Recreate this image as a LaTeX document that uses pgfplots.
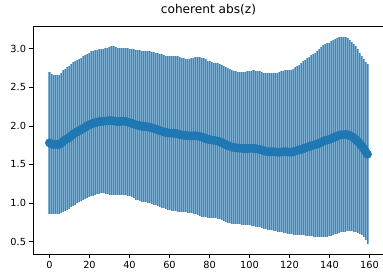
\documentclass[border=0pt]{standalone}
\usepackage{pgfplots}
\pgfplotsset{compat=1.18}
\usepackage{pgfplotstable}
\usepackage{fontspec}
\setmainfont{DejaVu Sans}
\definecolor{C0}{HTML}{1F77B4}

% x, mean, upper end and lower end of the error bar
\pgfplotstableread{
x m U L
0 1.78 2.70 0.86
1 1.7625 2.67 0.855
2 1.76 2.665 0.855
3 1.76 2.665 0.855
4 1.76 2.665 0.855
5 1.76 2.665 0.855
6 1.78 2.69 0.87
7 1.8025 2.72 0.885
8 1.82 2.74 0.90
9 1.835 2.76 0.91
10 1.8525 2.78 0.925
11 1.8725 2.80 0.945
12 1.895 2.825 0.965
13 1.91 2.84 0.98
14 1.925 2.855 0.995
15 1.94 2.87 1.01
16 1.955 2.885 1.025
17 1.97 2.90 1.04
18 1.985 2.915 1.055
19 2.0025 2.935 1.07
20 2.015 2.95 1.08
21 2.025 2.965 1.085
22 2.035 2.975 1.095
23 2.0425 2.98 1.105
24 2.05 2.985 1.115
25 2.055 2.99 1.12
26 2.0575 2.99 1.125
27 2.06 2.995 1.125
28 2.0625 3.005 1.12
29 2.065 3.015 1.115
30 2.0675 3.025 1.11
31 2.0675 3.03 1.105
32 2.065 3.03 1.10
33 2.06 3.02 1.10
34 2.055 3.01 1.10
35 2.055 3.005 1.105
36 2.06 3.01 1.11
37 2.0625 3.015 1.11
38 2.0575 3.01 1.105
39 2.05 3.005 1.095
40 2.0425 3.00 1.085
41 2.035 2.995 1.075
42 2.025 2.99 1.06
43 2.015 2.985 1.045
44 2.0075 2.98 1.035
45 2.0025 2.98 1.025
46 1.9975 2.975 1.02
47 1.9925 2.97 1.015
48 1.99 2.97 1.01
49 1.9875 2.97 1.005
50 1.9825 2.965 1.00
51 1.975 2.96 0.99
52 1.9675 2.955 0.98
53 1.96 2.95 0.97
54 1.95 2.94 0.96
55 1.94 2.93 0.95
56 1.9325 2.925 0.94
57 1.9225 2.915 0.93
58 1.915 2.91 0.92
59 1.91 2.91 0.91
60 1.9075 2.91 0.905
61 1.905 2.91 0.90
62 1.905 2.91 0.90
63 1.9025 2.91 0.895
64 1.8975 2.905 0.89
65 1.89 2.89 0.89
66 1.8825 2.88 0.885
67 1.88 2.875 0.885
68 1.875 2.87 0.88
69 1.8725 2.87 0.875
70 1.87 2.87 0.87
71 1.87 2.875 0.865
72 1.8725 2.885 0.86
73 1.8725 2.89 0.855
74 1.8675 2.89 0.845
75 1.8625 2.89 0.835
76 1.855 2.885 0.825
77 1.8475 2.875 0.82
78 1.8375 2.86 0.815
79 1.8275 2.845 0.81
80 1.8225 2.835 0.81
81 1.8175 2.825 0.81
82 1.8125 2.82 0.805
83 1.8075 2.815 0.80
84 1.8025 2.81 0.795
85 1.795 2.80 0.79
86 1.785 2.79 0.78
87 1.7725 2.775 0.77
88 1.7575 2.76 0.755
89 1.745 2.745 0.745
90 1.7375 2.735 0.74
91 1.7275 2.72 0.735
92 1.72 2.71 0.73
93 1.7175 2.705 0.73
94 1.7125 2.70 0.725
95 1.7125 2.70 0.725
96 1.71 2.70 0.72
97 1.7075 2.70 0.715
98 1.705 2.70 0.71
99 1.7075 2.705 0.71
100 1.71 2.71 0.71
101 1.71 2.715 0.705
102 1.71 2.72 0.70
103 1.705 2.715 0.695
104 1.70 2.71 0.69
105 1.695 2.705 0.685
106 1.69 2.70 0.68
107 1.68 2.69 0.67
108 1.67 2.68 0.66
109 1.6675 2.68 0.655
110 1.665 2.68 0.65
111 1.665 2.685 0.645
112 1.665 2.69 0.64
113 1.6625 2.69 0.635
114 1.66 2.69 0.63
115 1.66 2.695 0.625
116 1.6625 2.705 0.62
117 1.665 2.715 0.615
118 1.665 2.72 0.61
119 1.6625 2.72 0.605
120 1.66 2.72 0.60
121 1.66 2.725 0.595
122 1.665 2.74 0.59
123 1.675 2.76 0.59
124 1.6825 2.78 0.585
125 1.69 2.795 0.585
126 1.695 2.81 0.58
127 1.7075 2.835 0.58
128 1.715 2.855 0.575
129 1.725 2.875 0.575
130 1.7325 2.895 0.57
131 1.7425 2.915 0.57
132 1.75 2.935 0.565
133 1.7575 2.95 0.565
134 1.7675 2.97 0.565
135 1.775 2.99 0.56
136 1.79 3.02 0.56
137 1.8025 3.045 0.56
138 1.8125 3.06 0.565
139 1.8175 3.07 0.565
140 1.825 3.08 0.57
141 1.835 3.095 0.575
142 1.8475 3.11 0.585
143 1.8575 3.12 0.595
144 1.87 3.135 0.605
145 1.88 3.145 0.615
146 1.885 3.15 0.62
147 1.8875 3.15 0.625
148 1.8875 3.145 0.63
149 1.885 3.135 0.635
150 1.875 3.115 0.635
151 1.8625 3.09 0.635
152 1.8475 3.065 0.63
153 1.825 3.03 0.62
154 1.80 2.99 0.61
155 1.775 2.95 0.60
156 1.7425 2.90 0.585
157 1.71 2.86 0.56
158 1.6725 2.825 0.52
159 1.6325 2.80 0.465
}\datatable

\begin{document}
\begin{tikzpicture}
\path (-33bp,-21bp) rectangle (350bp,254bp);
\begin{axis}[
  overlay,
  at={(0,0)}, anchor=south west,
  scale only axis,
  width=351bp, height=228bp,
  xmin=-8.25, xmax=167.25,
  ymin=0.34, ymax=3.294,
  xtick={0,20,...,160},
  ytick={0.5,1.0,1.5,2.0,2.5,3.0},
  yticklabel style={/pgf/number format/.cd, fixed, fixed zerofill, precision=1},
  /pgf/number format/assume math mode=true,
  tick label style={font=\fontsize{9.8}{11}\selectfont, text=black},
  tick align=outside, tick pos=left,
  major tick length=3.5bp,
  every tick/.style={black, line width=0.7bp},
  axis line style={line width=0.7bp},
  axis on top,
  title={coherent abs(z)},
  title style={font=\fontsize{12.2}{14}\selectfont, at={(0.5,1)}, anchor=base, yshift=7bp},
]
% error bars: light band from the upper end down, C0 stripes on it, then white below the lower end
\addplot[ycomb, C0!58!white, line width=2.2bp, mark=none, forget plot] table[x=x, y=U] {\datatable};
\addplot[ycomb, C0!88!white, line width=1.3bp, mark=none, forget plot] table[x=x, y=U] {\datatable};
\addplot[ycomb, white, line width=2.2bp, mark=none, forget plot] table[x=x, y=L] {\datatable};
% mean values
\addplot[only marks, mark=*, mark size=4.2bp, color=C0, mark options={fill=C0, draw=C0}]
  table[x=x, y=m] {\datatable};
\end{axis}
\end{tikzpicture}
\end{document}
